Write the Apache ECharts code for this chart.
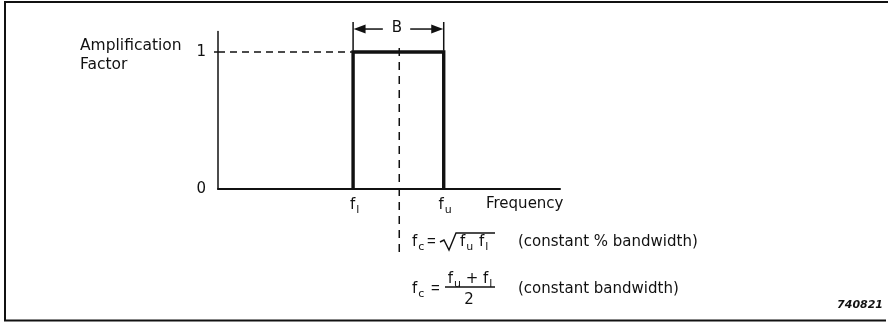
<!DOCTYPE html>
<html>
<head>
<meta charset="utf-8">
<script src="https://cdn.jsdelivr.net/npm/echarts@6/dist/echarts.min.js"></script>
<style>
html,body{margin:0;padding:0;background:#fff}
#main{width:890px;height:322px}
</style>
</head>
<body>
<div id="main"></div>
<script>
// values, frequency axis runs 0..10 (arbitrary units)
var bandFreq = [3.95, 3.95, 6.6, 6.6];
var bandGain = [0, 1, 1, 0];
var unityFreq = [0, 3.95];
var unityGain = [1, 1];
var centreFreq = [5.3, 5.3];
var centreGain = [1.03, -0.48];
var yTickValues = [0, 1];
var edgeValues = [3.95, 6.6];
var edgeSubs = ['l', 'u'];

var ink = '#111';
var font = 'DejaVu Sans';

function pairs(xs, ys) {
    var out = [];
    for (var i = 0; i < xs.length; i++) out.push([xs[i], ys[i]]);
    return out;
}

var subRich = {
    m: {fontSize: 15, fontFamily: font, color: ink},
    s: {fontSize: 11, fontFamily: font, color: ink, padding: [10, 0, 0, 1]}
};

function txt(x, y, text, extra) {
    var st = {x: x, y: y, text: text, fill: ink, font: '15px "DejaVu Sans"',
        textVerticalAlign: 'middle', rich: subRich};
    for (var k in extra) st[k] = extra[k];
    return {type: 'text', silent: true, style: st};
}

// arrow of the B bracket: plain start, arrow head at the band edge
function arrow(from, to, rot) {
    return {
        type: 'line', clip: false, silent: true,
        data: [
            {value: from, symbol: 'none'},
            {value: to, symbol: 'triangle', symbolSize: [9, 12], symbolRotate: rot,
                itemStyle: {color: ink, borderWidth: 0}}
        ],
        lineStyle: {color: ink, width: 1.5}
    };
}

var myChart = echarts.init(document.getElementById('main'));

var option = {
    animation: false,
    backgroundColor: '#fff',
    grid: {left: 218, right: 330, top: 31.5, bottom: 133},
    xAxis: {
        type: 'value', min: 0, max: 10,
        axisLine: {lineStyle: {color: ink, width: 2}},
        axisTick: {show: false},
        splitLine: {show: false},
        axisLabel: {
            customValues: edgeValues,
            margin: 6,
            formatter: function (v) {
                var i = edgeValues.indexOf(v);
                return '{m|f}{s|' + edgeSubs[i] + '}';
            },
            rich: subRich,
            padding: [0, 0, 0, 3]
        }
    },
    yAxis: {
        type: 'value', min: 0, max: 1.15,
        axisLine: {show: true, lineStyle: {color: ink, width: 1.5}},
        axisTick: {show: true, customValues: [1], length: 4, lineStyle: {color: ink, width: 1.5}},
        splitLine: {show: false},
        axisLabel: {customValues: yTickValues, margin: 12, color: ink, fontSize: 15, fontFamily: font}
    },
    series: [
        {
            name: 'unity', type: 'line', symbol: 'none', clip: false,
            data: pairs(unityFreq, unityGain),
            lineStyle: {color: ink, width: 1.5, type: [7, 5]}
        },
        {
            name: 'centre', type: 'line', symbol: 'none', clip: false,
            data: pairs(centreFreq, centreGain),
            lineStyle: {color: ink, width: 1.5, type: [8, 6]}
        },
        {
            name: 'passband', type: 'line', symbol: 'none', clip: false,
            data: pairs(bandFreq, bandGain),
            lineStyle: {color: ink, width: 3.4, join: 'miter'}
        },
        {
            name: 'bracket', type: 'line', symbol: 'none', clip: false,
            data: [[3.95, 1.01], [3.95, 1.22], null, [6.6, 1.22], [6.6, 1.01]],
            connectNulls: false,
            lineStyle: {color: ink, width: 1.5}
        },
        arrow([4.82, 1.168], [4.14, 1.168], 90),
        arrow([5.62, 1.168], [6.41, 1.168], -90)
    ],
    graphic: [
        // frame (open on the right, as in the original)
        {type: 'polyline', silent: true, shape: {points: [[888, 2], [5, 2], [5, 320.5], [886, 320.5]]},
            style: {stroke: ink, lineWidth: 2, fill: null}},
        txt(80, 46, 'Amplification', {font: '15.5px "DejaVu Sans"'}),
        txt(80, 65, 'Factor', {font: '15.5px "DejaVu Sans"'}),
        txt(397, 28, 'B', {textAlign: 'center'}),
        txt(486, 204, 'Frequency'),
        // f_c = sqrt(f_u f_l)
        txt(412, 242, '{m|f}{s|c}'),
        txt(427, 242, '=', {font: '15px "Liberation Sans"'}),
        {type: 'polyline', silent: true,
            shape: {points: [[440, 242], [444, 240], [449, 250], [456, 233], [495, 233]]},
            style: {stroke: ink, lineWidth: 1.4, fill: null}},
        txt(460, 242, '{m|f}{s|u}'),
        txt(479, 242, '{m|f}{s|l}'),
        txt(518, 242, '(constant % bandwidth)'),
        // f_c = (f_u + f_l) / 2
        txt(412, 289, '{m|f}{s|c}'),
        txt(431, 289, '=', {font: '15px "Liberation Sans"'}),
        txt(470, 279, '{m|f}{s|u}{m| + }{m|f}{s|l}', {textAlign: 'center'}),
        {type: 'line', silent: true, shape: {x1: 445, y1: 287, x2: 495, y2: 287},
            style: {stroke: ink, lineWidth: 1.4}},
        txt(469, 300, '2', {textAlign: 'center'}),
        txt(518, 289, '(constant bandwidth)'),
        txt(883, 305, '740821', {textAlign: 'right', font: 'italic bold 11px "DejaVu Sans"'})
    ]
};

myChart.setOption(option);
window.addEventListener('resize', function () { myChart.resize(); });
</script>
</body>
</html>
